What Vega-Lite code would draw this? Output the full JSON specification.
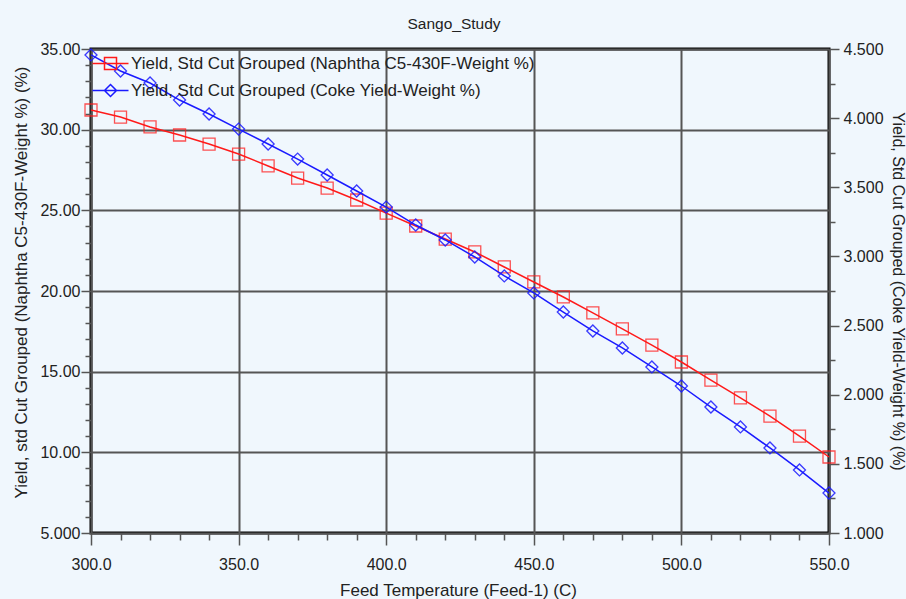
{
  "$schema": "https://vega.github.io/schema/vega-lite/v6.json",
  "width": 738,
  "height": 484,
  "autosize": {"type": "none"},
  "padding": {"left": 91, "top": 49, "right": 77, "bottom": 66},
  "background": "#f0f7fd",
  "title": {"text": "Sango_Study", "font": "Liberation Sans", "fontSize": 15.5, "fontWeight": "normal", "color": "#222222", "offset": 9, "dx": -6},
  "config": {
    "view": {"stroke": "#000000", "strokeWidth": 3},
    "axis": {"labelFont": "Liberation Sans", "labelFontSize": 16, "labelColor": "#222222", "titleFont": "Liberation Sans", "titleFontSize": 17, "titleFontWeight": "normal", "titleColor": "#222222", "domain": false, "tickColor": "#555555", "tickWidth": 1.5, "gridColor": "#555555", "gridWidth": 2}
  },
  "data": {"values": [
    {"t": 300, "series": "Yield, Std Cut Grouped (Naphtha C5-430F-Weight %)", "v": 31.22},
    {"t": 310, "series": "Yield, Std Cut Grouped (Naphtha C5-430F-Weight %)", "v": 30.78},
    {"t": 320, "series": "Yield, Std Cut Grouped (Naphtha C5-430F-Weight %)", "v": 30.17},
    {"t": 330, "series": "Yield, Std Cut Grouped (Naphtha C5-430F-Weight %)", "v": 29.67},
    {"t": 340, "series": "Yield, Std Cut Grouped (Naphtha C5-430F-Weight %)", "v": 29.11},
    {"t": 350, "series": "Yield, Std Cut Grouped (Naphtha C5-430F-Weight %)", "v": 28.49},
    {"t": 360, "series": "Yield, Std Cut Grouped (Naphtha C5-430F-Weight %)", "v": 27.75},
    {"t": 370, "series": "Yield, Std Cut Grouped (Naphtha C5-430F-Weight %)", "v": 27.0},
    {"t": 380, "series": "Yield, Std Cut Grouped (Naphtha C5-430F-Weight %)", "v": 26.38},
    {"t": 390, "series": "Yield, Std Cut Grouped (Naphtha C5-430F-Weight %)", "v": 25.64},
    {"t": 400, "series": "Yield, Std Cut Grouped (Naphtha C5-430F-Weight %)", "v": 24.83},
    {"t": 410, "series": "Yield, Std Cut Grouped (Naphtha C5-430F-Weight %)", "v": 24.03},
    {"t": 420, "series": "Yield, Std Cut Grouped (Naphtha C5-430F-Weight %)", "v": 23.22},
    {"t": 430, "series": "Yield, Std Cut Grouped (Naphtha C5-430F-Weight %)", "v": 22.42},
    {"t": 440, "series": "Yield, Std Cut Grouped (Naphtha C5-430F-Weight %)", "v": 21.49},
    {"t": 450, "series": "Yield, Std Cut Grouped (Naphtha C5-430F-Weight %)", "v": 20.56},
    {"t": 460, "series": "Yield, Std Cut Grouped (Naphtha C5-430F-Weight %)", "v": 19.63},
    {"t": 470, "series": "Yield, Std Cut Grouped (Naphtha C5-430F-Weight %)", "v": 18.64},
    {"t": 480, "series": "Yield, Std Cut Grouped (Naphtha C5-430F-Weight %)", "v": 17.65},
    {"t": 490, "series": "Yield, Std Cut Grouped (Naphtha C5-430F-Weight %)", "v": 16.65},
    {"t": 500, "series": "Yield, Std Cut Grouped (Naphtha C5-430F-Weight %)", "v": 15.6},
    {"t": 510, "series": "Yield, Std Cut Grouped (Naphtha C5-430F-Weight %)", "v": 14.48},
    {"t": 520, "series": "Yield, Std Cut Grouped (Naphtha C5-430F-Weight %)", "v": 13.37},
    {"t": 530, "series": "Yield, Std Cut Grouped (Naphtha C5-430F-Weight %)", "v": 12.25},
    {"t": 540, "series": "Yield, Std Cut Grouped (Naphtha C5-430F-Weight %)", "v": 11.01},
    {"t": 550, "series": "Yield, Std Cut Grouped (Naphtha C5-430F-Weight %)", "v": 9.71},
    {"t": 300, "series": "Yield, Std Cut Grouped (Coke Yield-Weight %)", "v": 4.457},
    {"t": 310, "series": "Yield, Std Cut Grouped (Coke Yield-Weight %)", "v": 4.341},
    {"t": 320, "series": "Yield, Std Cut Grouped (Coke Yield-Weight %)", "v": 4.254},
    {"t": 330, "series": "Yield, Std Cut Grouped (Coke Yield-Weight %)", "v": 4.131},
    {"t": 340, "series": "Yield, Std Cut Grouped (Coke Yield-Weight %)", "v": 4.03},
    {"t": 350, "series": "Yield, Std Cut Grouped (Coke Yield-Weight %)", "v": 3.921},
    {"t": 360, "series": "Yield, Std Cut Grouped (Coke Yield-Weight %)", "v": 3.813},
    {"t": 370, "series": "Yield, Std Cut Grouped (Coke Yield-Weight %)", "v": 3.704},
    {"t": 380, "series": "Yield, Std Cut Grouped (Coke Yield-Weight %)", "v": 3.589},
    {"t": 390, "series": "Yield, Std Cut Grouped (Coke Yield-Weight %)", "v": 3.473},
    {"t": 400, "series": "Yield, Std Cut Grouped (Coke Yield-Weight %)", "v": 3.357},
    {"t": 410, "series": "Yield, Std Cut Grouped (Coke Yield-Weight %)", "v": 3.227},
    {"t": 420, "series": "Yield, Std Cut Grouped (Coke Yield-Weight %)", "v": 3.119},
    {"t": 430, "series": "Yield, Std Cut Grouped (Coke Yield-Weight %)", "v": 2.996},
    {"t": 440, "series": "Yield, Std Cut Grouped (Coke Yield-Weight %)", "v": 2.859},
    {"t": 450, "series": "Yield, Std Cut Grouped (Coke Yield-Weight %)", "v": 2.736},
    {"t": 460, "series": "Yield, Std Cut Grouped (Coke Yield-Weight %)", "v": 2.598},
    {"t": 470, "series": "Yield, Std Cut Grouped (Coke Yield-Weight %)", "v": 2.461},
    {"t": 480, "series": "Yield, Std Cut Grouped (Coke Yield-Weight %)", "v": 2.338},
    {"t": 490, "series": "Yield, Std Cut Grouped (Coke Yield-Weight %)", "v": 2.201},
    {"t": 500, "series": "Yield, Std Cut Grouped (Coke Yield-Weight %)", "v": 2.063},
    {"t": 510, "series": "Yield, Std Cut Grouped (Coke Yield-Weight %)", "v": 1.911},
    {"t": 520, "series": "Yield, Std Cut Grouped (Coke Yield-Weight %)", "v": 1.767},
    {"t": 530, "series": "Yield, Std Cut Grouped (Coke Yield-Weight %)", "v": 1.615},
    {"t": 540, "series": "Yield, Std Cut Grouped (Coke Yield-Weight %)", "v": 1.456},
    {"t": 550, "series": "Yield, Std Cut Grouped (Coke Yield-Weight %)", "v": 1.289}
  ]},
  "encoding": {
    "x": {
      "field": "t", "type": "quantitative",
      "scale": {"domain": [300, 550], "nice": false, "zero": false},
      "axis": {
        "title": "Feed Temperature (Feed-1) (C)",
        "titleX": 367, "titleY": 57, "titleBaseline": "middle", "titleAlign": "center",
        "values": [300,310,320,330,340,350,360,370,380,390,400,410,420,430,440,450,460,470,480,490,500,510,520,530,540,550],
        "labelExpr": "datum.value % 50 === 0 ? format(datum.value, '.1f') : ''",
        "labelPadding": 11,
        "labelFlush": false,
        "tickSize": {"condition": {"test": "datum.value % 50 === 0", "value": 12}, "value": 7},
        "gridOpacity": {"condition": {"test": "datum.value % 50 === 0", "value": 1}, "value": 0}
      }
    },
    "color": {
      "field": "series", "type": "nominal",
      "scale": {"domain": ["Yield, Std Cut Grouped (Naphtha C5-430F-Weight %)", "Yield, Std Cut Grouped (Coke Yield-Weight %)"], "range": ["#ff1a1a", "#1a1aff"]},
      "legend": {
        "title": null, "orient": "none", "legendX": 11, "legendY": 6, "padding": 0,
        "labelFont": "Liberation Sans", "labelFontSize": 17, "labelColor": "#222222", "labelLimit": 0,
        "labelOffset": 12, "rowPadding": 8, "symbolSize": 144, "symbolStrokeWidth": 1.5,
        "symbolFillColor": "transparent",
        "encode": {"symbols": {"update": {"shape": {"signal": "datum.value === 'Yield, Std Cut Grouped (Naphtha C5-430F-Weight %)' ? 'M-3,0H3M-1,-1H1V1H-1Z' : 'M-3,0H3M-1,0L0,-1L1,0L0,1Z'"}}}}
      }
    }
  },
  "layer": [
    {
      "transform": [{"filter": "datum.series === 'Yield, Std Cut Grouped (Naphtha C5-430F-Weight %)'"}],
      "encoding": {
        "y": {
          "field": "v", "type": "quantitative",
          "scale": {"domain": [5, 35], "nice": false, "zero": false},
          "axis": {
            "orient": "left",
            "title": "Yield, std Cut Grouped (Naphtha C5-430F-Weight %) (%)",
            "titleX": -70, "titleY": 233, "titleBaseline": "middle", "titleAngle": -90, "titleAlign": "center",
            "values": [5,6,7,8,9,10,11,12,13,14,15,16,17,18,19,20,21,22,23,24,25,26,27,28,29,30,31,32,33,34,35],
            "labelExpr": "datum.value % 5 === 0 ? (datum.value >= 10 ? format(datum.value, '.2f') : format(datum.value, '.3f')) : ''",
            "labelPadding": 1,
            "labelFlush": false,
            "tickSize": {"condition": {"test": "datum.value % 5 === 0", "value": 10}, "value": 6},
            "gridOpacity": {"condition": {"test": "datum.value % 5 === 0", "value": 1}, "value": 0}
          }
        }
      },
      "layer": [
        {"mark": {"type": "line", "strokeWidth": 1.5}},
        {"mark": {"type": "point", "shape": "square", "filled": false, "size": 144, "strokeWidth": 1.3, "opacity": 0.75}}
      ]
    },
    {
      "transform": [{"filter": "datum.series === 'Yield, Std Cut Grouped (Coke Yield-Weight %)'"}],
      "encoding": {
        "y": {
          "field": "v", "type": "quantitative",
          "scale": {"domain": [1, 4.5], "nice": false, "zero": false},
          "axis": {
            "orient": "right",
            "title": "Yield, Std Cut Grouped (Coke Yield-Weight %) (%)",
            "titleFontSize": 16,
            "titleX": 68, "titleY": 242, "titleBaseline": "middle", "titleAngle": 90, "titleAlign": "center",
            "values": [1,1.25,1.5,1.75,2,2.25,2.5,2.75,3,3.25,3.5,3.75,4,4.25,4.5],
            "labelExpr": "(datum.value * 2) % 1 === 0 ? format(datum.value, '.3f') : ''",
            "labelPadding": 4,
            "labelFlush": false,
            "grid": false,
            "tickSize": {"condition": {"test": "(datum.value * 2) % 1 === 0", "value": 10}, "value": 6}
          }
        }
      },
      "layer": [
        {"mark": {"type": "line", "strokeWidth": 1.5}},
        {"mark": {"type": "point", "shape": "diamond", "filled": false, "size": 144, "strokeWidth": 1.3, "opacity": 0.85}}
      ]
    }
  ],
  "resolve": {"scale": {"y": "independent"}}
}
